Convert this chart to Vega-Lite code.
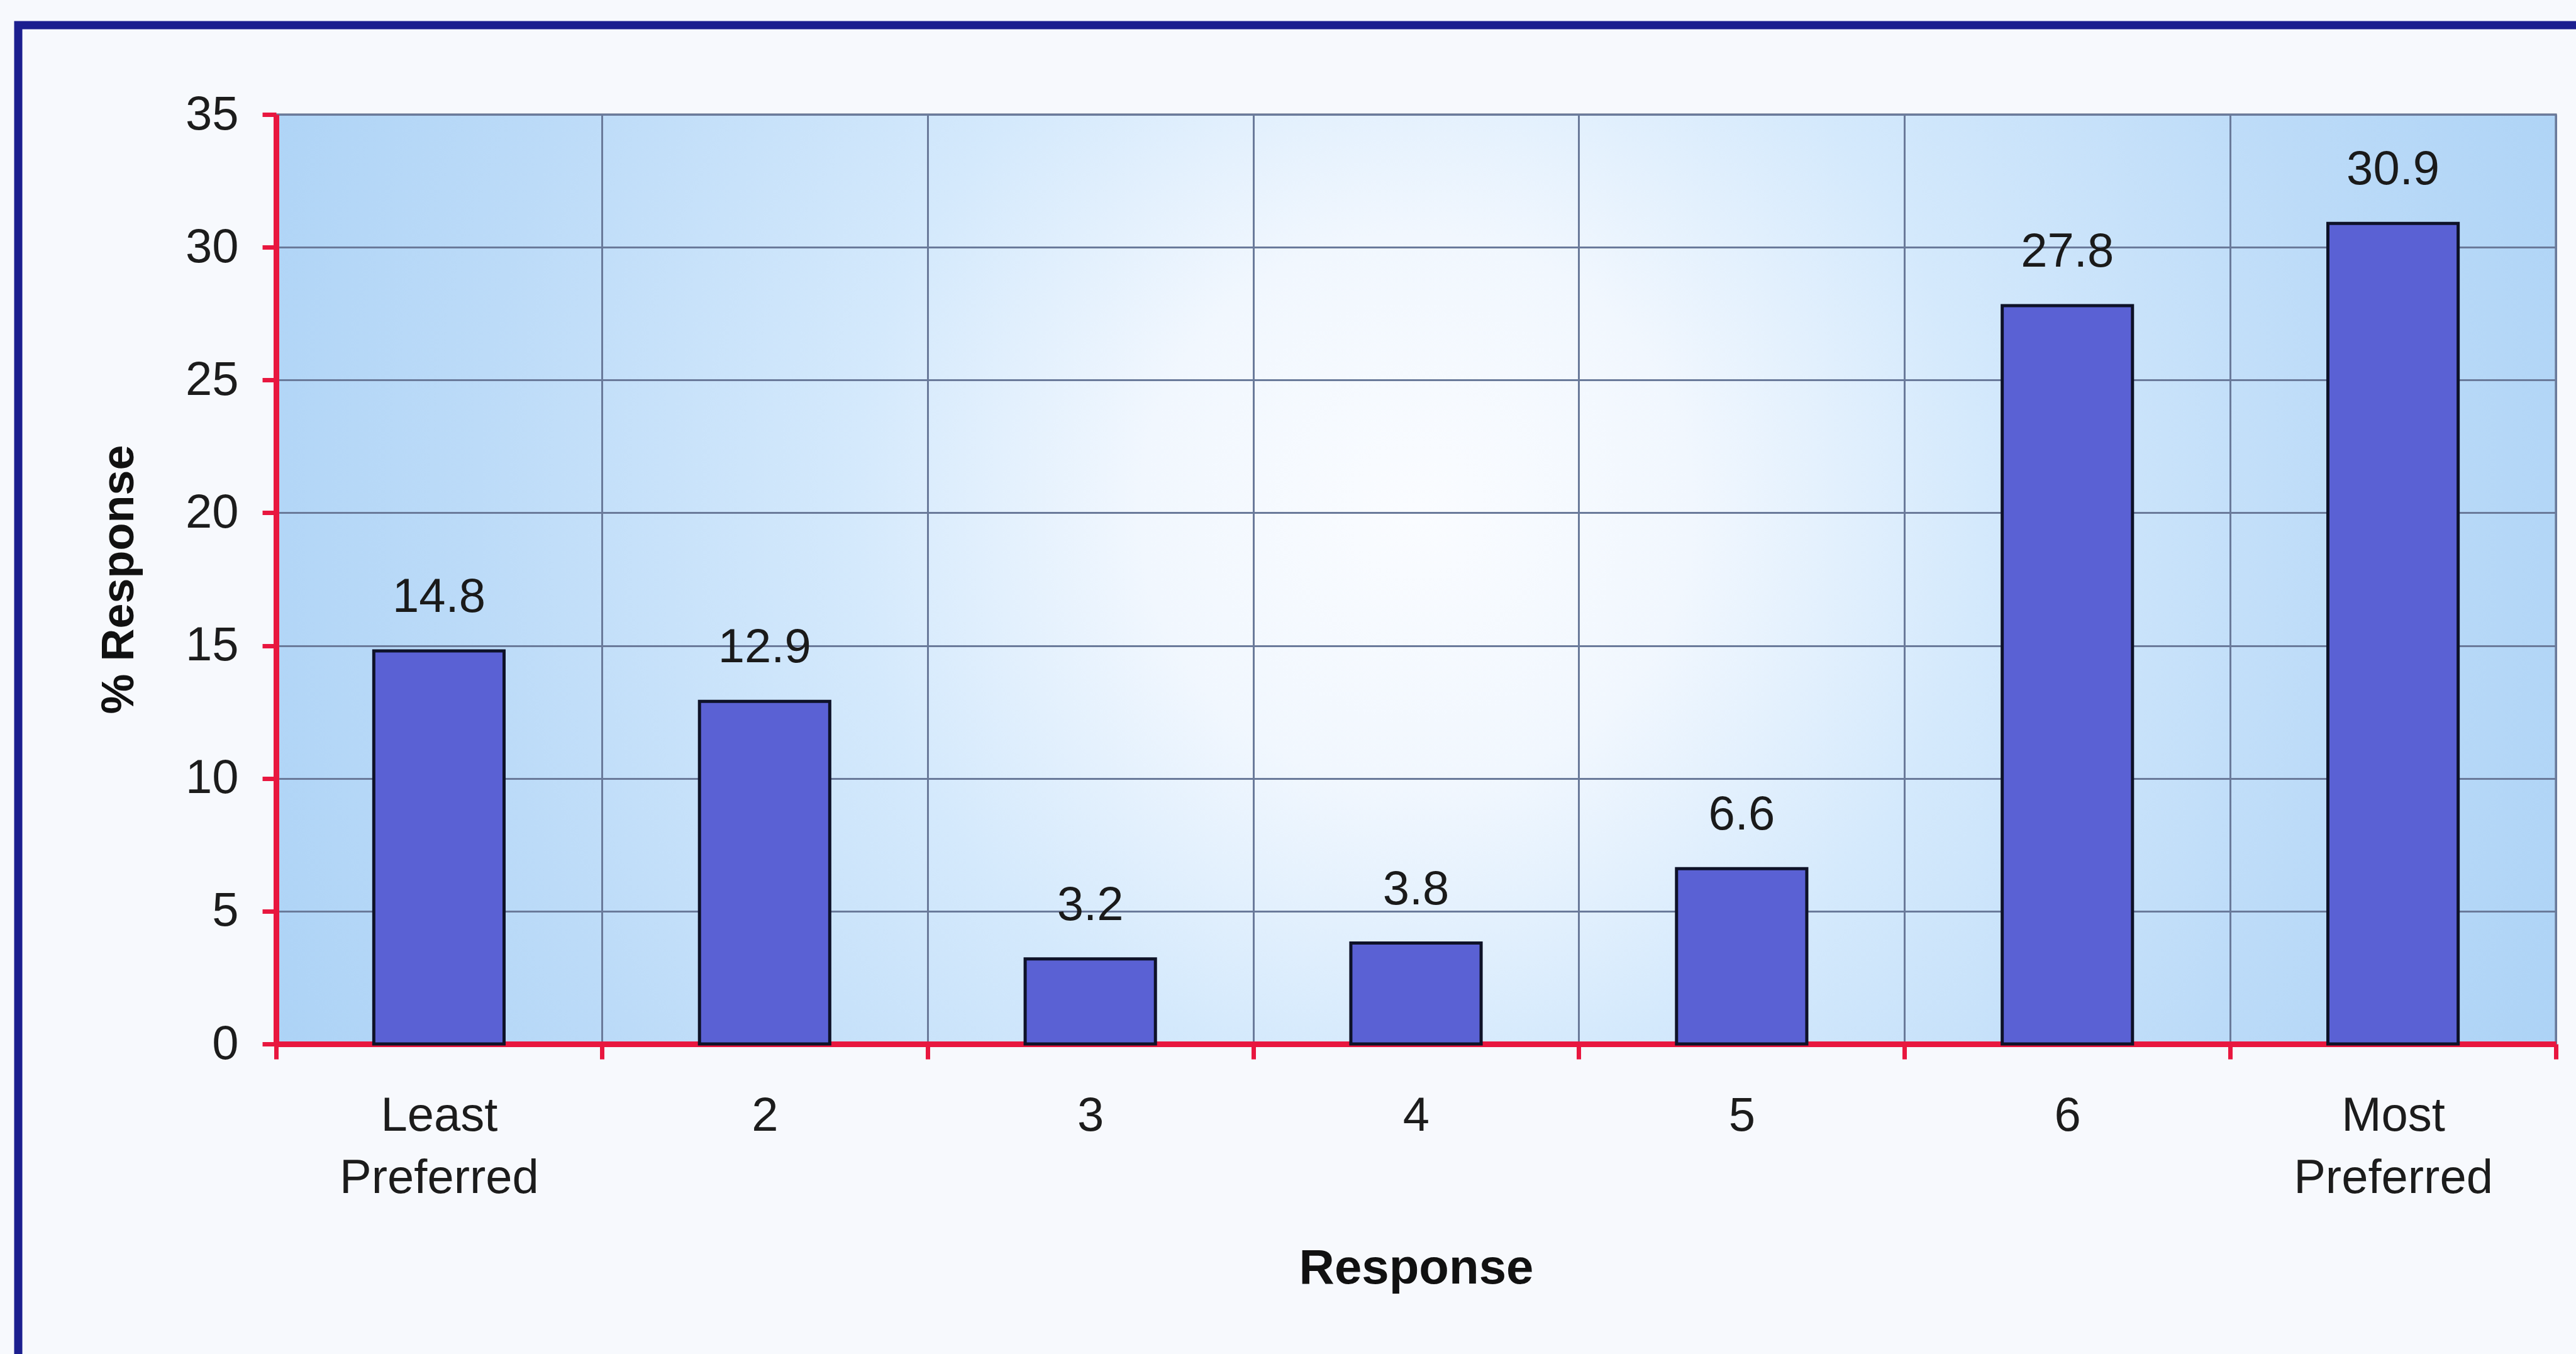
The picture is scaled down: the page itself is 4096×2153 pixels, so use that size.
{
  "$schema": "https://vega.github.io/schema/vega-lite/v6.json",
  "autosize": {"type": "none"},
  "width": 3625,
  "height": 1478,
  "padding": {"left": 439, "top": 182, "right": 32, "bottom": 493},
  "background": "#f7f9fd",
  "view": {
    "fill": {
      "gradient": "radial",
      "x1": 0.5, "y1": 0.47, "r1": 0,
      "x2": 0.5, "y2": 0.47, "r2": 0.55,
      "stops": [
        {"offset": 0, "color": "#fafcff"},
        {"offset": 0.22, "color": "#f1f7fe"},
        {"offset": 0.45, "color": "#d4e9fc"},
        {"offset": 0.75, "color": "#bcdbf8"},
        {"offset": 1, "color": "#add3f6"}
      ]
    },
    "stroke": "#56657f",
    "strokeWidth": 3
  },
  "data": {
    "values": [
      {"response": "Least Preferred", "pct": 14.8},
      {"response": "2", "pct": 12.9},
      {"response": "3", "pct": 3.2},
      {"response": "4", "pct": 3.8},
      {"response": "5", "pct": 6.6},
      {"response": "6", "pct": 27.8},
      {"response": "Most Preferred", "pct": 30.9}
    ]
  },
  "layer": [
    {
      "layer": [
        {
          "mark": {
            "type": "bar",
            "fill": "#5a61d4",
            "stroke": "#0e1228",
            "strokeWidth": 5,
            "width": {"band": 0.4}
          },
          "encoding": {
            "x": {
              "field": "response",
              "type": "nominal",
              "sort": null,
              "scale": {"paddingInner": 0, "paddingOuter": 0},
              "axis": {
                "title": "Response",
                "tickBand": "extent",
                "grid": true,
                "gridColor": "#6a7a9a",
                "gridWidth": 3,
                "domainColor": "#e8173f",
                "domainWidth": 9,
                "tickColor": "#e8173f",
                "tickWidth": 7,
                "tickSize": 24,
                "labelAngle": 0,
                "labelLimit": 0,
                "labelExpr": "split(datum.label, ' ')",
                "labelFontSize": 76,
                "labelColor": "#1c1c1c",
                "labelPadding": 113,
                "labelBaseline": "alphabetic",
                "labelLineHeight": 99,
                "titleFontSize": 78,
                "titleFontWeight": "bold",
                "titleColor": "#111111",
                "titleY": 380,
                "titleBaseline": "alphabetic"
              }
            },
            "y": {
              "field": "pct",
              "type": "quantitative",
              "scale": {"domain": [0, 35], "nice": false},
              "axis": {
                "title": "% Response",
                "values": [0, 5, 10, 15, 20, 25, 30, 35],
                "grid": true,
                "gridColor": "#6a7a9a",
                "gridWidth": 3,
                "domainColor": "#e8173f",
                "domainWidth": 9,
                "tickColor": "#e8173f",
                "tickWidth": 7,
                "tickSize": 22,
                "labelFontSize": 76,
                "labelColor": "#1c1c1c",
                "labelPadding": 38,
                "titleFontSize": 72,
                "titleFontWeight": "bold",
                "titleColor": "#111111",
                "titleX": -228,
                "titleBaseline": "alphabetic"
              }
            }
          }
        },
        {
          "mark": {
            "type": "text",
            "dy": -62,
            "baseline": "alphabetic",
            "align": "center",
            "fontSize": 76,
            "color": "#1a1a1a"
          },
          "encoding": {
            "x": {"field": "response", "type": "nominal", "sort": null},
            "y": {"field": "pct", "type": "quantitative"},
            "text": {"field": "pct", "type": "quantitative", "format": ".1f"}
          }
        }
      ]
    },
    {
      "data": {"values": [{"part": "outer frame"}]},
      "mark": {"type": "rect", "filled": false, "stroke": "#1c1f8f", "strokeWidth": 13, "clip": false},
      "encoding": {
        "x": {"datum": -0.7917, "type": "quantitative", "scale": {"domain": [0, 7], "nice": false, "zero": false}, "axis": null},
        "x2": {"datum": 8.5},
        "y": {"datum": 38.36, "type": "quantitative", "scale": {"domain": [0, 35], "nice": false}, "axis": null},
        "y2": {"datum": -25}
      }
    }
  ],
  "resolve": {"scale": {"x": "independent", "y": "independent"}, "axis": {"x": "independent", "y": "independent"}},
  "config": {
    "font": "Liberation Sans"
  }
}
